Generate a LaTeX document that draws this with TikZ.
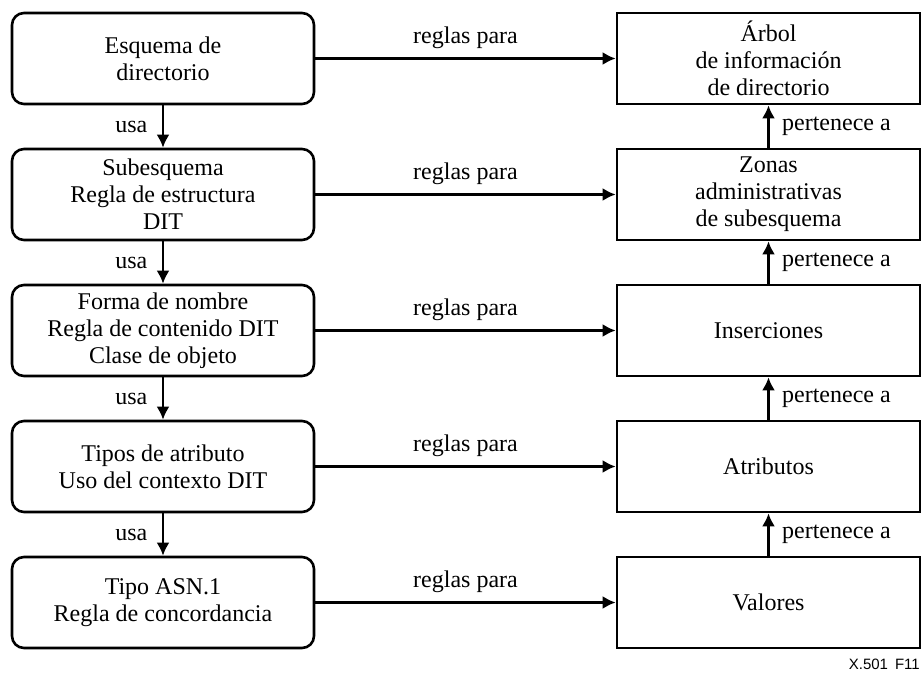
\documentclass[tikz,border=0pt]{standalone}
\usepackage{fontspec}
\setmainfont{Liberation Serif}
\newfontfamily\labelsans{Liberation Sans}
\usetikzlibrary{arrows.meta}

\begin{document}
\begin{tikzpicture}[x=1pt,y=-1pt,
  every node/.append style={font=\fontsize{24}{27}\selectfont},
  lbox/.style={draw, line width=2.6pt, rounded corners=12pt, align=center,
               minimum width=302pt, minimum height=91pt, inner sep=0pt},
  rbox/.style={draw, line width=2.6pt, align=center,
               minimum width=303pt, minimum height=91pt, inner sep=0pt},
  link/.style={line width=2.6pt, -{Latex[length=13pt,width=13pt]}}
]
\useasboundingbox (0,0) rectangle (922,673);

% left column: schema elements
\node[lbox] (l1) at (163,58.5)  {Esquema de\\directorio};
\node[lbox] (l2) at (163,194.5) {Subesquema\\Regla de estructura\\DIT};
\node[lbox] (l3) at (163,330.5) {Forma de nombre\\Regla de contenido DIT\\Clase de objeto};
\node[lbox] (l4) at (163,466.5) {Tipos de atributo\\Uso del contexto DIT};
\node[lbox] (l5) at (163,602.5) {Tipo ASN.1\\Regla de concordancia};

% right column: information governed by the schema
\node[rbox] (r1) at (768.5,58.5)  {Árbol\\de información\\de directorio};
\node[rbox] (r2) at (768.5,194.5) {Zonas\\administrativas\\de subesquema};
\node[rbox] (r3) at (768.5,330.5) {Inserciones};
\node[rbox] (r4) at (768.5,466.5) {Atributos};
\node[rbox] (r5) at (768.5,602.5) {Valores};

% "usa" chain down the left column
\foreach \a/\b in {l1/l2, l2/l3, l3/l4, l4/l5}
  \draw[link] (\a.south) -- node[midway, left=11pt] {usa} (\b.north);

% "pertenece a" chain up the right column
\foreach \a/\b in {r5/r4, r4/r3, r3/r2, r2/r1}
  \draw[link] (\a.north) -- node[midway, right=9pt] {pertenece a} (\b.south);

% "reglas para" links across
\foreach \i in {1,...,5}
  \draw[link] (l\i.east) -- node[midway, above=5pt] {reglas para} (r\i.west);

\node[anchor=base east, inner sep=0pt, font=\labelsans\fontsize{15}{17}\selectfont] (tag) at (920,669) {X.501\hspace{7pt}F11};
\end{tikzpicture}
\end{document}
